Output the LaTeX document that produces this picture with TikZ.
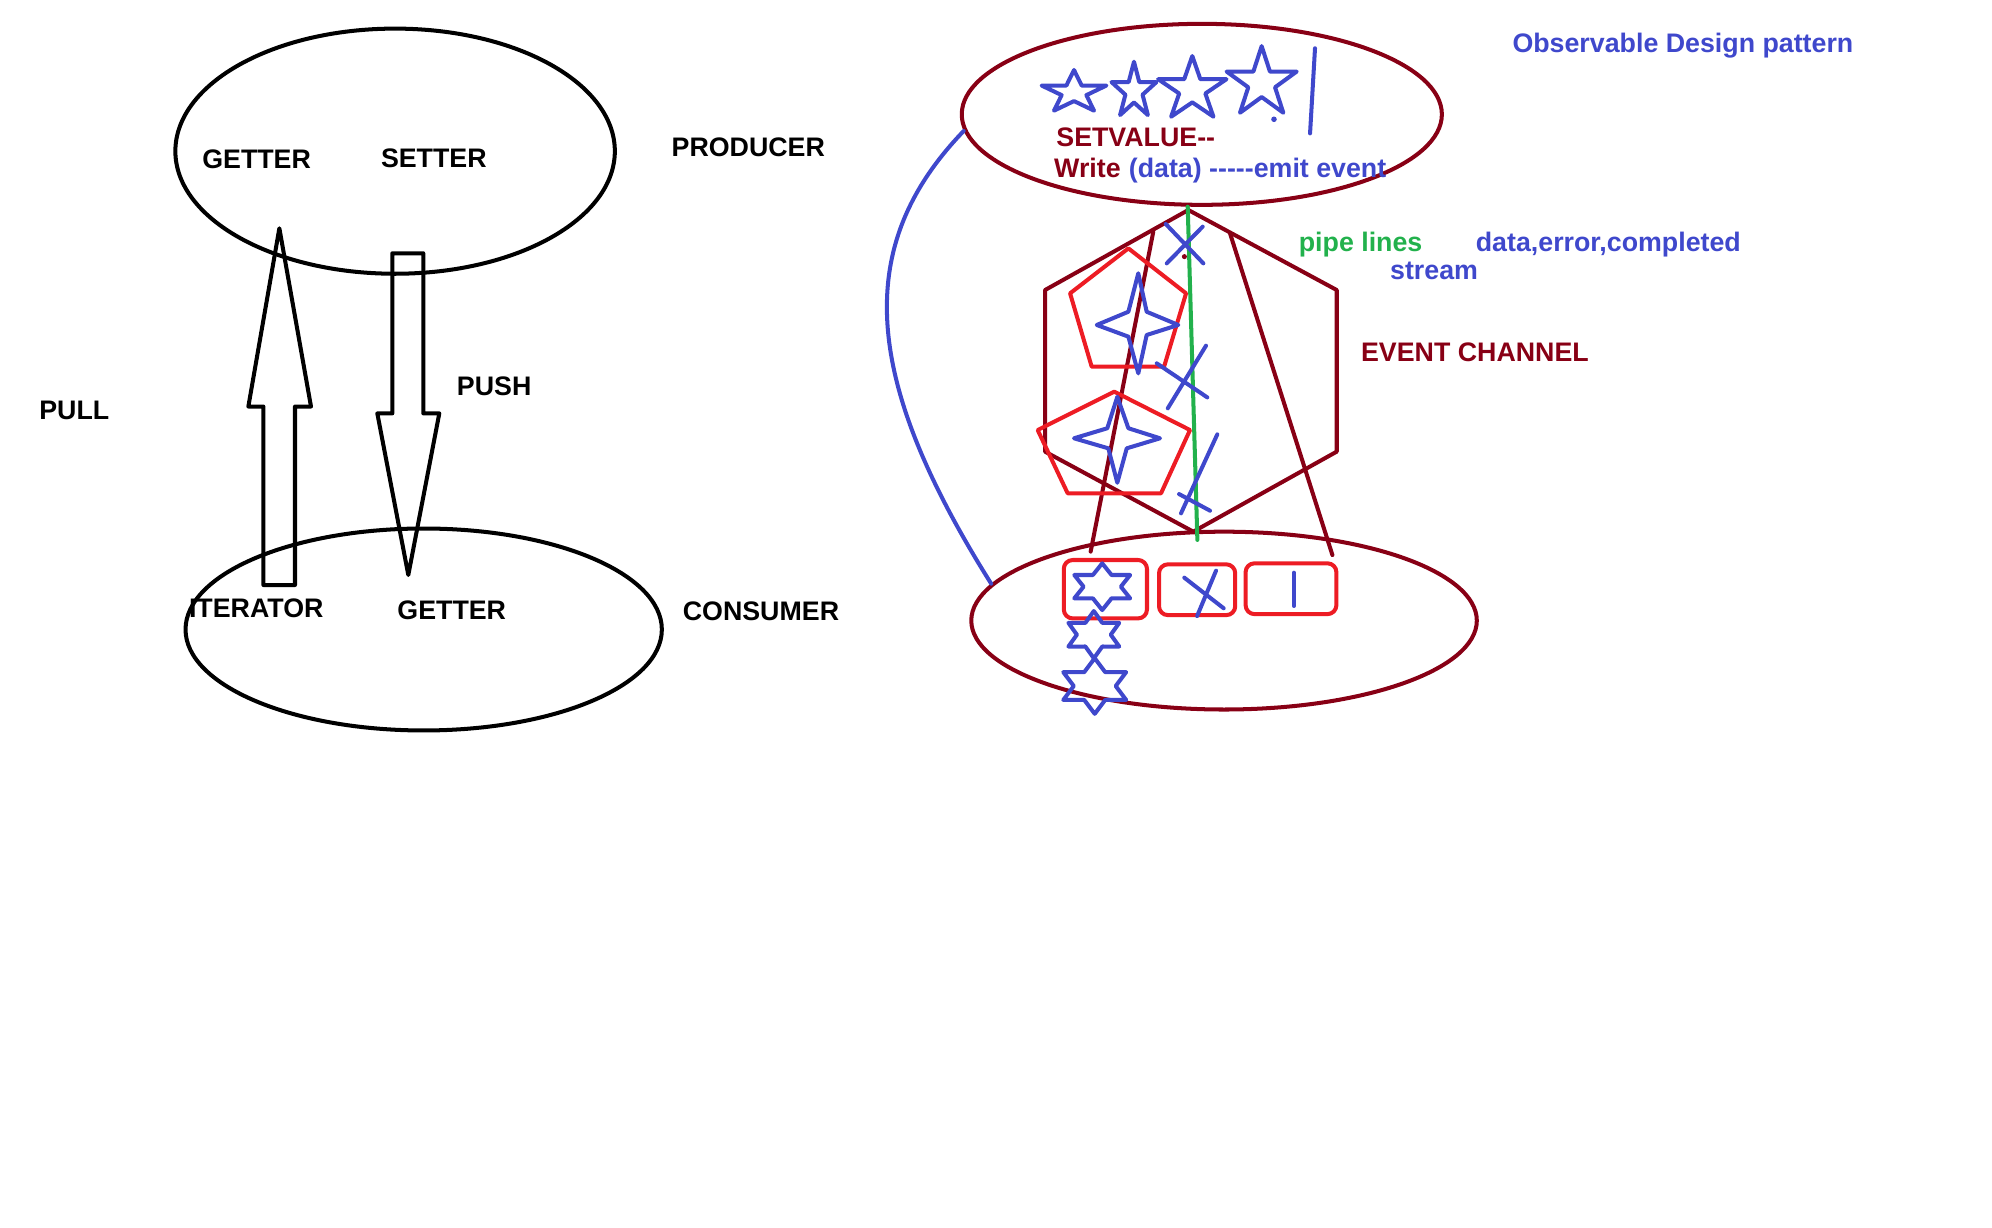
\documentclass[tikz,border=0pt]{standalone}
\usepackage{fontspec}
\setmainfont{Liberation Sans}
\usetikzlibrary{shapes.geometric}
\definecolor{pdred}{HTML}{880015}
\definecolor{pred}{HTML}{ED1C24}
\definecolor{pblue}{HTML}{3F48CC}
\definecolor{pgreen}{HTML}{22B14C}

\begin{document}
\begin{tikzpicture}[x=0.02cm, y=-0.02cm, line width=1.8pt, line join=round, line cap=round,
  txt/.style={font=\bfseries\fontsize{12}{14}\selectfont, inner sep=0pt, text height=8.6pt, text depth=0pt},
  oval/.style={ellipse, draw, inner sep=0pt},
  slot/.style={draw=pred, rounded corners=4pt, inner sep=0pt}]

\useasboundingbox (0,0) rectangle (1568,966);

\node[oval, minimum width=6.92cm, minimum height=3.86cm] (prodL) at (311,119) {};
\node[oval, minimum width=7.5cm, minimum height=3.18cm] (consL) at (333.5,495.5) {};
\node[txt] (getP) at (202,125) {GETTER};
\node[txt] (setP) at (341.5,124.5) {SETTER};
\node[txt] (producer) at (589,116) {PRODUCER};
\node[txt] (iter) at (201.7,478.6) {ITERATOR};
\node[txt] (getC) at (355.6,480) {GETTER};
\node[txt] (consumer) at (599,481) {CONSUMER};
\node[txt] (pull) at (58.5,322.5) {PULL};
\node[txt] (push) at (389,303.8) {PUSH};

\draw (207.3,460.5) -- (207.3,320) -- (195.5,320) -- (219.9,179.7) -- (244.8,320) -- (232.2,320) -- (232.2,460.5) -- cycle;
\draw (308.8,199.4) -- (333.2,199.4) -- (333.2,325.4) -- (345.8,325.4) -- (321.4,452.6) -- (297,325.4) -- (308.8,325.4) -- cycle;

\node[oval, draw=pdred, minimum width=7.56cm, minimum height=2.85cm] (prodR) at (946,90) {};
\node[oval, draw=pdred, minimum width=7.96cm, minimum height=2.8cm] (consR) at (963.5,488.5) {};

\foreach \cx/\cy/\rx/\ry in {845.4/72.8/26.8/17.7, 892.6/71.8/18.6/23.2, 938.5/70.5/28.3/26.4, 993.1/65.3/29/29}
  \draw[pblue] plot[variable=\k, samples at={0,...,9}] ({\cx+\rx*(1-0.618*mod(\k,2))*cos(90+36*\k)}, {\cy-\ry*(1-0.618*mod(\k,2))*sin(90+36*\k)}) -- cycle;
\fill[pblue] (1002.8,93.9) circle (2.2);
\draw[pblue] (1035.1,38) -- (1031.2,105);

\node[txt, text=pdred] (setv) at (894,107.6) {SETVALUE-{}-};
\node[txt, text=pdred] (write) at (856,132.1) {Write};
\node[txt, text=pblue, anchor=west] (emit) at (887,132.1) {(data) -{}-{}-{}-{}-emit event};
\node[txt, text=pblue] (title) at (1324.7,33.6) {Observable Design pattern};
\node[txt, text=pgreen] (pipes) at (1071,190.6) {pipe lines};
\node[txt, text=pblue] (kinds) at (1266,190.6) {data,error,completed};
\node[txt, text=pblue] (stream) at (1128.8,212.3) {stream};
\node[txt, text=pdred] (channel) at (1161,276.8) {EVENT CHANNEL};

\draw[pdred] (935.4,165.3) -- (1052.2,228.3) -- (1052.2,355.5) -- (939.3,418.5) -- (822.6,355.5) -- (822.6,228.3) -- cycle;
\draw[pdred] (907.8,182.4) -- (858.5,434.2);
\draw[pdred] (968.2,183.7) -- (1048.8,436.9);
\fill[pdred] (932.3,202) circle (2);
\draw[pgreen] (934.9,162.7) -- (942.5,425);

\draw[pred] (888.2,195.5) -- (933.6,230.9) -- (916.3,288.6) -- (859.3,288.6) -- (842.3,230.9) -- cycle;
\draw[pred] (877.1,308.3) -- (936.7,338.5) -- (913.9,388.3) -- (840.4,388.3) -- (816.8,338.5) -- cycle;
\draw[pblue] (896,215.1) -- (902.6,245.4) -- (927.5,255.8) -- (902.6,263.7) -- (896,293.9) -- (888.2,265) -- (863.3,255.8) -- (888.2,245.4) -- cycle;
\draw[pblue] (879.5,312.3) -- (888.2,337.1) -- (913.1,345) -- (886.9,352.9) -- (879.5,380) -- (872.4,352.9) -- (845.4,345) -- (871.6,337.1) -- cycle;

\draw[pblue] (917.6,176.3) -- (947.2,207.3) (918.4,207.3) -- (946.7,178.4);
\draw[pblue] (910.5,286) -- (950.3,312.8) (919.2,321.4) -- (949.3,272.1);
\draw[pblue] (928.1,388.9) -- (952.5,402) (929.6,404.1) -- (958.2,341.9);

\node[slot, minimum width=1.31cm, minimum height=0.92cm] (slotA) at (870.1,463.8) {};
\node[slot, minimum width=1.2cm, minimum height=0.8cm] (slotB) at (942.3,464.2) {};
\node[slot, minimum width=1.43cm, minimum height=0.8cm] (slotC) at (1016.2,463.4) {};

\foreach \cx/\cy/\rx/\ry in {867.6/461.8/25.4/18.4, 861/499.6/23.1/18.6, 861.7/540/28.6/21.9}
  \draw[pblue] plot[variable=\k, samples at={0,...,11}] ({\cx+\rx*(1-0.423*mod(\k,2))*cos(90+30*\k)}, {\cy-\ry*(1-0.423*mod(\k,2))*sin(90+30*\k)}) -- cycle;
\draw[pblue] (932.2,454.7) -- (963.2,478.8) (957.2,449.2) -- (942.3,484.9);
\draw[pblue] (1018.5,450.8) -- (1018.5,477);

\draw[pblue] (prodR.184) .. controls (670,195) and (680,300) .. (consR.171);

\end{tikzpicture}
\end{document}
